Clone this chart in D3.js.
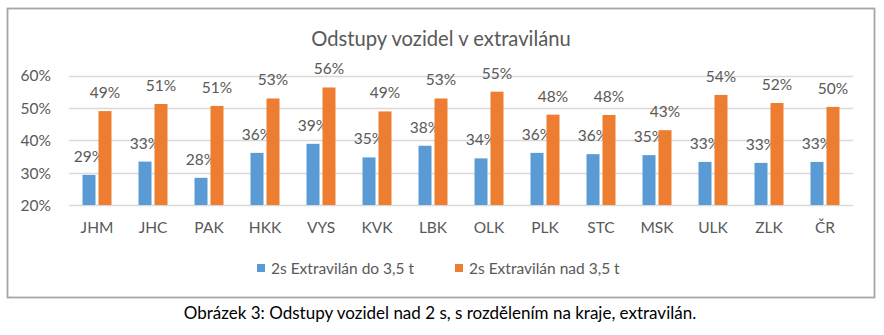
<!DOCTYPE html>
<html>
<head>
<meta charset="utf-8">
<script src="https://cdn.jsdelivr.net/npm/d3@7"></script>
<style>
  html, body { margin: 0; padding: 0; background: #fff; }
  svg { display: block; }
  text { font-family: Lato, "Open Sans", sans-serif; fill: #595959; }
</style>
</head>
<body>
<svg id="chart" width="884" height="335"></svg>
<script>
const categories = ["JHM","JHC","PAK","HKK","VYS","KVK","LBK","OLK","PLK","STC","MSK","ULK","ZLK","ČR"];
const seriesNames = ["2s Extravilán do 3,5 t", "2s Extravilán nad 3,5 t"];
const seriesDo = [29.3, 33.4, 28.4, 36.1, 38.9, 34.7, 38.3, 34.4, 36.1, 35.7, 35.4, 33.3, 33.0, 33.3];
const seriesNad = [49.0, 51.2, 50.6, 52.9, 56.3, 48.9, 52.9, 55.0, 47.9, 47.8, 43.1, 54.0, 51.5, 50.3];
const yTicks = [20, 30, 40, 50, 60];
const title = "Odstupy vozidel v extravilánu";
const caption = "Obrázek 3: Odstupy vozidel nad 2 s, s rozdělením na kraje, extravilán.";
const colors = ["#5B9BD5", "#ED7D31"];

const svg = d3.select("#chart");

// outer frame
svg.append("rect").attr("x", 7.5).attr("y", 8.5).attr("width", 867).attr("height", 289)
  .attr("fill", "#fff").attr("stroke", "#A6A6A6").attr("stroke-width", 1.8);

const pL = 69, pR = 853, pT = 75.5, pB = 205;
const x = d3.scaleBand().domain(categories).range([pL, pR]);
const y = d3.scaleLinear().domain([20, 60]).range([pB, pT]);

// grid
svg.append("g").selectAll("line").data(yTicks).join("line")
  .attr("x1", pL).attr("x2", pR)
  .attr("y1", d => Math.round(y(d)) + 0.5).attr("y2", d => Math.round(y(d)) + 0.5)
  .attr("stroke", "#D9D9D9").attr("stroke-width", 1.5);

// y axis labels
const yAxis = d3.axisLeft(y).tickValues(yTicks).tickFormat(d => d + "%").tickSize(0).tickPadding(0);
const ya = svg.append("g").attr("transform", `translate(${pL - 18},0)`).call(yAxis);
ya.select(".domain").remove();
ya.selectAll("text").style("font-family", "Lato, sans-serif").attr("font-size", 15.5).attr("fill", "#595959").attr("dy", "0.35em");

// x axis labels
const xAxis = d3.axisBottom(x).tickSize(0).tickPadding(0);
const xa = svg.append("g").attr("transform", `translate(0,${pB + 17})`).call(xAxis);
xa.select(".domain").remove();
xa.selectAll("text").style("font-family", "Lato, sans-serif").attr("font-size", 15.5).attr("fill", "#595959").attr("dy", "0.71em");

const barW = 13;
const offsets = [-14.5, 1.5];
const allSeries = [seriesDo, seriesNad];

allSeries.forEach((vals, si) => {
  const g = svg.append("g");
  g.selectAll("rect").data(vals).join("rect")
    .attr("x", (d, i) => x(categories[i]) + x.bandwidth() / 2 + offsets[si])
    .attr("width", barW)
    .attr("y", d => y(d))
    .attr("height", d => y(20) - y(d))
    .attr("fill", colors[si]);
  g.selectAll("text").data(vals).join("text")
    .attr("x", (d, i) => x(categories[i]) + x.bandwidth() / 2 + offsets[si] + barW / 2)
    .attr("y", d => y(d) - 13)
    .attr("text-anchor", "middle")
    .attr("font-size", 15.5)
    .text(d => Math.round(d) + "%");
});

// title
svg.append("text").attr("x", 441).attr("y", 46).attr("text-anchor", "middle")
  .attr("font-size", 20.2).text(title);

// legend
const legendX = [257, 455];
seriesNames.forEach((n, i) => {
  svg.append("rect").attr("x", legendX[i]).attr("y", 264).attr("width", 8).attr("height", 8).attr("fill", colors[i]);
  svg.append("text").attr("x", legendX[i] + 14).attr("y", 273.5).attr("font-size", 15.5).text(n);
});

// caption
svg.append("text").attr("x", 440).attr("y", 319).attr("text-anchor", "middle")
  .attr("font-size", 17).style("fill", "#000").text(caption);
</script>
</body>
</html>
